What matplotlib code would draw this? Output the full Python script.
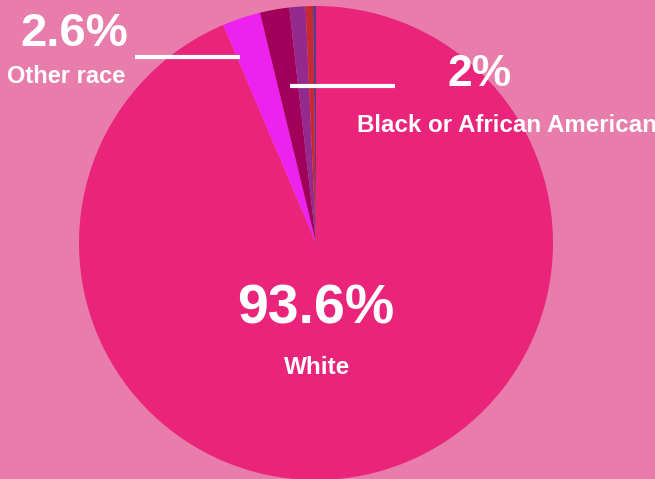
import matplotlib
matplotlib.use("Agg")
import matplotlib.pyplot as plt

# race breakdown, clockwise from 12 o'clock
labels = ["White", "Other race", "Black or African American", "Two or more races", "Asian", "American Indian"]
shares = [93.6, 2.6, 2.0, 1.1, 0.5, 0.2]
colors = ["#E9247A", "#EE22EE", "#A0005A", "#952A8E", "#C8282E", "#5B3A8A"]

bg = "#E87DAC"
font = ["Liberation Sans Narrow", "Liberation Sans", "DejaVu Sans"]

fig = plt.figure(figsize=(6.55, 4.79), dpi=100, facecolor=bg)
ax = fig.add_axes([0, 0, 1, 1])
ax.set_facecolor(bg)

# y axis is flipped below, so -90 / counterclock gives clockwise from the top
ax.pie(shares, colors=colors, startangle=-90, counterclock=True,
       center=(316, 243), radius=237, frame=True,
       wedgeprops=dict(linewidth=0))

ax.set_xlim(0, 655)
ax.set_ylim(479, 0)
ax.set_aspect("auto")
ax.axis("off")

# callout texts
ax.text(316, 310, f"{shares[0]}%", ha="center", va="center", color="white",
        fontsize=40, fontweight="bold", family=font)
ax.text(317, 368, labels[0], ha="center", va="center", color="white",
        fontsize=17.5, fontweight="bold", family=font)

ax.text(74, 34, f"{shares[1]}%", ha="center", va="center", color="white",
        fontsize=34, fontweight="bold", family=font)
ax.text(66, 76, labels[1], ha="center", va="center", color="white",
        fontsize=17, fontweight="bold", family=font)
ax.plot([135, 240], [57, 57], color="white", lw=3, solid_capstyle="butt")

ax.text(480, 74, f"{shares[2]:g}%", ha="center", va="center", color="white",
        fontsize=32, fontweight="bold", family=font)
ax.text(357, 125, labels[2], ha="left", va="center", color="white",
        fontsize=17.4, fontweight="bold", family=font)
ax.plot([290, 395], [86, 86], color="white", lw=3, solid_capstyle="butt")

fig.savefig("out.png", dpi=100, facecolor=bg)
